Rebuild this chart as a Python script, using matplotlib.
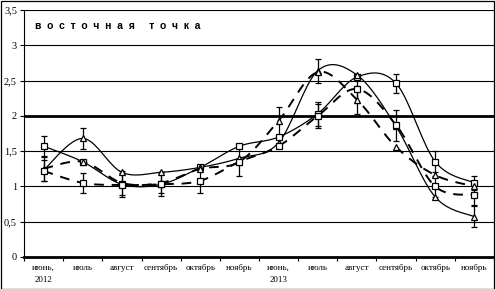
import numpy as np
import matplotlib.pyplot as plt
from matplotlib.patches import Rectangle

months = ['июнь,\n2012', 'июль', 'август', 'сентябрь', 'октябрь', 'ноябрь',
          'июнь,\n2013', 'июль', 'август', 'сентябрь', 'октябрь', 'ноябрь']

# four series
sq_solid = [1.57, 1.35, 1.03, 1.03, 1.27, 1.57, 1.70, 2.03, 2.55, 2.46, 1.35, 1.05]
tr_solid = [1.23, 1.68, 1.20, 1.20, 1.27, 1.40, 1.62, 2.64, 2.58, 1.85, 0.85, 0.57]
tr_dash = [1.25, 1.35, 1.05, 1.05, 1.25, 1.35, 1.93, 2.62, 2.23, 1.56, 1.16, 1.00]
sq_dash = [1.22, 1.05, 1.02, 1.03, 1.08, 1.35, 1.57, 2.00, 2.38, 1.87, 1.00, 0.88]

err_sq_solid = [0.14, 0.00, 0.00, 0.00, 0.00, 0.00, 0.00, 0.17, 0.00, 0.14, 0.15, 0.10]
err_tr_solid = [0.00, 0.15, 0.00, 0.00, 0.00, 0.00, 0.00, 0.17, 0.00, 0.00, 0.00, 0.15]
err_tr_dash = [0.17, 0.00, 0.17, 0.15, 0.00, 0.00, 0.20, 0.00, 0.20, 0.00, 0.00, 0.00]
err_sq_dash = [0.15, 0.14, 0.17, 0.17, 0.18, 0.20, 0.00, 0.17, 0.20, 0.22, 0.15, 0.15]


def smooth(x, y, n=20):
    # Catmull-Rom style curve, like Excel's smoothed line
    x = np.asarray(x, float)
    y = np.asarray(y, float)
    px = np.concatenate([[x[0]], x, [x[-1]]])
    py = np.concatenate([[y[0]], y, [y[-1]]])
    xs, ys = [], []
    t = np.linspace(0, 1, n)
    for i in range(1, len(px) - 2):
        p0, p1, p2, p3 = [np.array([px[j], py[j]]) for j in range(i - 1, i + 3)]
        c1 = p1 + (p2 - p0) / 6
        c2 = p2 - (p3 - p1) / 6
        b = ((1 - t) ** 3)[:, None] * p1 + (3 * (1 - t) ** 2 * t)[:, None] * c1 \
            + (3 * (1 - t) * t ** 2)[:, None] * c2 + (t ** 3)[:, None] * p2
        xs.extend(b[:, 0])
        ys.extend(b[:, 1])
    return xs, ys


plt.rcParams['font.family'] = ['Liberation Serif', 'DejaVu Serif']

fig = plt.figure(figsize=(4.95, 2.89), dpi=100)
ax = fig.add_axes([24 / 495, 1 - 257 / 289, 470 / 495, 247 / 289])

x = np.arange(len(months))
styles = [
    (sq_solid, err_sq_solid, '-', 's', 0.9),
    (tr_solid, err_tr_solid, '-', '^', 0.9),
    (tr_dash, err_tr_dash, (0, (5, 4)), '^', 1.4),
    (sq_dash, err_sq_dash, (0, (5, 4)), 's', 1.4),
]
for y, e, ls, mk, lw in styles:
    sx, sy = smooth(x, y)
    ax.plot(sx, sy, color='black', linestyle=ls, linewidth=lw, zorder=3)
    e = np.array(e)
    m = e > 0
    ax.errorbar(x[m], np.array(y)[m], yerr=e[m], fmt='none', ecolor='black',
                elinewidth=0.9, capsize=2.5, capthick=0.9, zorder=4)
    ax.plot(x, y, linestyle='none', marker=mk, markersize=4, markerfacecolor='white',
            markeredgecolor='black', markeredgewidth=0.9, zorder=5)

ax.set_xlim(-0.5, len(months) - 0.5)
ax.set_ylim(0, 3.5)
yt = np.arange(0, 3.51, 0.5)
ax.set_yticks(yt)
ax.set_yticklabels([('%g' % v).replace('.', ',') for v in yt], fontsize=7.5)
for v in yt[1:]:
    ax.axhline(v, color='black', linewidth=2.0 if v == 2 else 0.8, zorder=1)

ax.set_xticks(x)
ax.set_xticklabels(months, fontsize=6.5, linespacing=1.6, va='top')
ax.set_xticks(np.arange(-0.5, len(months), 1), minor=True)
ax.tick_params(axis='x', which='major', length=0, pad=5)
ax.tick_params(axis='x', which='minor', length=3, width=0.8, direction='out')
ax.tick_params(axis='y', length=3, width=0.8, direction='out', pad=2)

for s in ['top', 'right']:
    ax.spines[s].set_visible(False)
ax.spines['left'].set_linewidth(0.8)
ax.spines['bottom'].set_linewidth(2.0)

ax.text(0.023, 0.955, 'в  о  с  т  о  ч  н  а  я     т  о  ч  к  а', transform=ax.transAxes,
        fontsize=7.5, fontweight='bold', family=['Liberation Sans', 'DejaVu Sans'],
        ha='left', va='top')

fig.patches.append(Rectangle((0.5 / 495, 0.5 / 289), 493.5 / 495, 287.5 / 289,
                             transform=fig.transFigure, fill=False,
                             edgecolor='black', linewidth=0.9))

fig.savefig('out.png', dpi=100)
